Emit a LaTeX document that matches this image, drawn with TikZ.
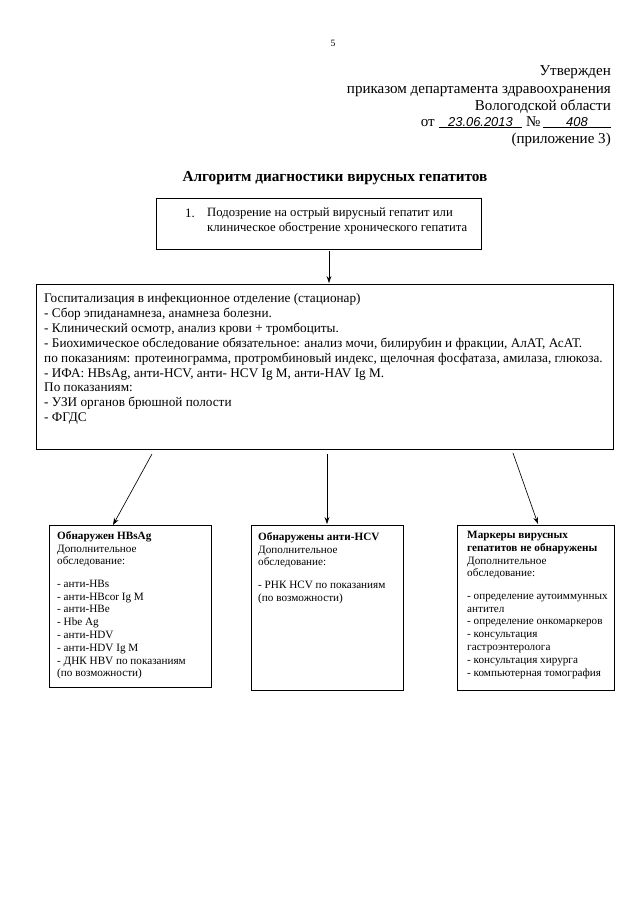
\documentclass[tikz,border=0pt]{standalone}
\usepackage{fontspec}
\setmainfont{Liberation Serif}
\newfontfamily\handfont{Liberation Sans}
\usetikzlibrary{arrows.meta}
\begin{document}
\begin{tikzpicture}[x=0.9301pt,y=-0.9301pt,
  boxline/.style={draw,line width=0.8pt,inner sep=0pt},
  hdr/.style={anchor=base east,inner sep=0pt,font=\fontsize{14}{16}\selectfont},
  bigtext/.style={anchor=north west,inner sep=0pt,align=left,font=\fontsize{12.3}{13.8}\selectfont},
  smalltext/.style={anchor=north west,inner sep=0pt,align=left,font=\fontsize{10.4}{11.9}\selectfont},
  arr/.style={line width=0.6pt,-{Stealth[length=6.5pt,width=4.5pt]}}]
\useasboundingbox[fill=white] (0,0) rectangle (640,905);

% header
\node[inner sep=0pt,anchor=base,font=\fontsize{9}{10}\selectfont] (pg) at (333,46) {5};
\node[hdr] (h1) at (611,75) {Утвержден};
\node[hdr] (h2) at (611,93) {приказом департамента здравоохранения};
\node[hdr] (h3) at (611,110) {Вологодской области};
\node[hdr] (h4) at (611,126) {от \underline{\makebox[78pt]{\handfont\itshape\fontsize{12}{12}\selectfont 23.06.2013}}
  №\,\underline{\makebox[63pt]{\handfont\itshape\fontsize{12}{12}\selectfont 408}}};
\node[hdr] (h5) at (611,143) {(приложение 3)};

% title
\node[inner sep=0pt,anchor=base,font=\fontsize{14.2}{16}\selectfont\bfseries] (title) at (335,181)
  {Алгоритм диагностики вирусных гепатитов};

% box 1
\node[boxline,minimum width=325*0.9301pt,minimum height=51*0.9301pt,anchor=north west] (b1) at (156,198) {};
\node[anchor=base west,inner sep=0pt,font=\fontsize{12}{14}\selectfont] (b1n) at (185,217) {1.};
\node[anchor=north west,inner sep=0pt,align=left,font=\fontsize{11.8}{14}\selectfont] (b1t) at (207,208)
  {Подозрение на острый вирусный гепатит или\\клиническое обострение хронического гепатита};

% big box
\node[boxline,minimum width=577*0.9301pt,minimum height=165*0.9301pt,anchor=north west] (big) at (36,284) {};
\node[bigtext] (bigt) at (44,293.5)
  {Госпитализация в инфекционное отделение (стационар)\\
   - Сбор эпиданамнеза, анамнеза болезни.\\
   - Клинический осмотр, анализ крови + тромбоциты.\\
   - Биохимическое обследование обязательное: анализ мочи, билирубин и фракции, АлАТ, АсАТ.\\
   по показаниям: протеинограмма, протромбиновый индекс, щелочная фосфатаза, амилаза, глюкоза.\\
   - ИФА: HBsAg, анти-HCV, анти- HCV Ig M, анти-HAV Ig M.\\
   По показаниям:\\
   - УЗИ органов брюшной полости\\
   - ФГДС};

% lower boxes
\node[boxline,minimum width=162*0.9301pt,minimum height=162*0.9301pt,anchor=north west] (lb) at (49,525) {};
\node[boxline,minimum width=152*0.9301pt,minimum height=165*0.9301pt,anchor=north west] (mb) at (251,525) {};
\node[boxline,minimum width=157*0.9301pt,minimum height=165*0.9301pt,anchor=north west] (rb) at (457,525) {};

\node[smalltext] (lbt) at (57,531)
  {\textbf{Обнаружен HBsAg}\\Дополнительное\\обследование:\\[9pt]
   - анти-HBs\\- анти-HBcor Ig M\\- анти-HBe\\- Hbe Ag\\- анти-HDV\\- анти-HDV Ig M\\
   - ДНК HBV по показаниям\\(по возможности)};
\node[smalltext] (mbt) at (258,532)
  {\textbf{Обнаружены анти-HCV}\\Дополнительное\\обследование:\\[9pt]
   - РНК HCV по показаниям\\(по возможности)};
\node[smalltext] (rbt) at (467,531)
  {\textbf{Маркеры вирусных}\\\textbf{гепатитов не обнаружены}\\Дополнительное\\обследование:\\[9pt]
   - определение аутоиммунных\\антител\\- определение онкомаркеров\\- консультация\\гастроэнтеролога\\
   - консультация хирурга\\- компьютерная томография};

% connectors
\coordinate (a0s) at (329,251);
\coordinate (a0e) at (329,283);
\draw[arr] (a0s) -- (a0e);
\coordinate (a1s) at (152,454);
\coordinate (a1e) at (113,525);
\coordinate (a2s) at (327,454);
\coordinate (a2e) at (327,524);
\coordinate (a3s) at (513,453);
\coordinate (a3e) at (538,524);
\draw[arr] (a1s) -- (a1e);
\draw[arr] (a2s) -- (a2e);
\draw[arr] (a3s) -- (a3e);
\end{tikzpicture}
\end{document}
